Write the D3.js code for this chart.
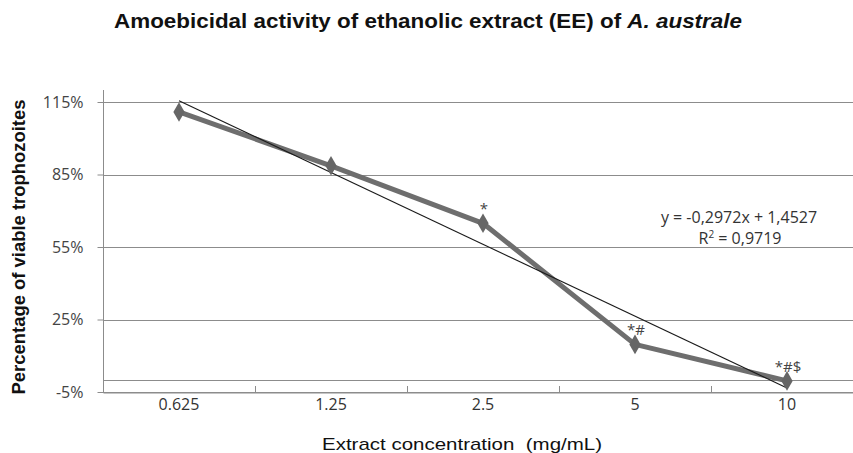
<!DOCTYPE html>
<html><head><meta charset="utf-8">
<script src="https://cdn.jsdelivr.net/npm/d3@7"></script>
<style>body{margin:0;background:#fff}svg{display:block}</style>
</head><body>
<svg id="c" width="853" height="453"></svg>
<script>
const categories = ["0.625", "1.25", "2.5", "5", "10"];
const values = [1.109, 0.886, 0.648, 0.147, -0.004];
const annotations = ["", "", "*", "*#", "*#$"];
const yTicks = [-0.05, 0.25, 0.55, 0.85, 1.15];
const trendSlope = -0.2972, trendIntercept = 1.4527, trendR2 = 0.9719;
const titleText = "Amoebicidal activity of ethanolic extract (EE) of ";
const titleItalic = "A. australe";
const xTitle = "Extract concentration  (mg/mL)";
const yTitle = "Percentage of viable trophozoites";

const svg = d3.select("#c");
const pLeft = 103, pRight = 863, pTop = 90, pBottom = 392;
const x = d3.scaleBand().domain(categories).range([pLeft, pRight]);
const y = d3.scaleLinear().domain([-0.05, 1.15]).range([pBottom, 102]);
const xc = c => x(c) + x.bandwidth() / 2;
const fmt = d => Math.round(d * 100) + "%";
const tickFont = "16px 'Open Sans', sans-serif";

// gridlines
svg.append("g").selectAll("line").data(yTicks.concat([0])).join("line")
  .attr("x1", pLeft).attr("x2", 853).attr("y1", d => Math.round(y(d)) + 0.5).attr("y2", d => Math.round(y(d)) + 0.5)
  .attr("stroke", "#8c8c8c").attr("stroke-width", 1);

// y axis
const yAxis = svg.append("g").attr("transform", `translate(${pLeft + 0.5},0)`)
  .call(d3.axisLeft(y).tickValues(yTicks).tickFormat(fmt).tickSize(6).tickPadding(14));
yAxis.select(".domain").remove();
yAxis.append("line").attr("y1", pTop).attr("y2", pBottom).attr("stroke", "#8c8c8c");
yAxis.selectAll(".tick line").attr("stroke", "#8c8c8c");
yAxis.selectAll(".tick text").attr("fill", "#444").style("font", tickFont);

// x axis
const xAxis = svg.append("g").attr("transform", `translate(0,${pBottom + 0.5})`)
  .call(d3.axisBottom(x).tickSize(0).tickPadding(6.5));
xAxis.select(".domain").attr("stroke", "#8c8c8c");
xAxis.selectAll(".tick text").attr("fill", "#333").style("font", tickFont);
// inter-category tick marks
svg.append("g").selectAll("line").data(categories.slice(1)).join("line")
  .attr("x1", d => Math.round(x(d)) + 0.5).attr("x2", d => Math.round(x(d)) + 0.5)
  .attr("y1", pBottom - 6).attr("y2", pBottom).attr("stroke", "#8c8c8c");

// series line
const line = d3.line().x((d, i) => xc(categories[i])).y(d => y(d));
svg.append("path").datum(values).attr("d", line)
  .attr("fill", "none").attr("stroke", "#6e6e6e").attr("stroke-width", 5).attr("stroke-linejoin", "round");

// trend line
const tx = [1, 5];
const tLine = d3.scaleLinear().domain([1, 5]).range([xc(categories[0]), xc(categories[4])]);
svg.append("line")
  .attr("x1", tLine(tx[0])).attr("y1", y(trendSlope * tx[0] + trendIntercept))
  .attr("x2", tLine(tx[1])).attr("y2", y(trendSlope * tx[1] + trendIntercept))
  .attr("stroke", "#1a1a1a").attr("stroke-width", 1.1);

// markers
svg.append("g").selectAll("path").data(values).join("path")
  .attr("d", d3.symbol(d3.symbolDiamond, 100))
  .attr("transform", (d, i) => `translate(${xc(categories[i])},${y(d)}) scale(1.05,1.05)`)
  .attr("fill", "#666");

// annotations
svg.append("g").selectAll("text").data(values).join("text")
  .attr("x", (d, i) => xc(categories[i]) + 1).attr("y", d => y(d) - 9)
  .attr("text-anchor", "middle").attr("fill", "#444")
  .style("font", "15px 'Open Sans', sans-serif")
  .text((d, i) => annotations[i]);

// equation
const eq = svg.append("g").attr("fill", "#333").style("font", "16px 'Open Sans', sans-serif").attr("text-anchor", "middle");
eq.append("text").attr("x", 739).attr("y", 223)
  .text(`y = ${String(trendSlope).replace(".", ",")}x + ${String(trendIntercept).replace(".", ",")}`);
const r = eq.append("text").attr("x", 740).attr("y", 244);
r.append("tspan").text("R");
r.append("tspan").attr("dy", -6).style("font-size", "10px").text("2");
r.append("tspan").attr("dy", 6).text(` = ${String(trendR2).replace(".", ",")}`);

// titles
const t = svg.append("text").attr("x", 428).attr("y", 28).attr("text-anchor", "middle")
  .attr("textLength", 628).attr("lengthAdjust", "spacingAndGlyphs")
  .attr("fill", "#111").style("font", "bold 21px 'Liberation Sans', Arial, sans-serif");
t.append("tspan").text(titleText);
t.append("tspan").style("font-style", "italic").text(titleItalic);

svg.append("text").attr("x", 462).attr("y", 450).attr("text-anchor", "middle")
  .attr("textLength", 280).attr("lengthAdjust", "spacingAndGlyphs")
  .style("white-space", "pre")
  .attr("fill", "#111").style("font", "17px 'Liberation Sans', Arial, sans-serif").text(xTitle);

svg.append("text").attr("transform", "translate(25,247) rotate(-90)").attr("text-anchor", "middle")
  .attr("textLength", 295).attr("lengthAdjust", "spacingAndGlyphs")
  .attr("fill", "#111").style("font", "bold 18px 'Liberation Sans', Arial, sans-serif").text(yTitle);
</script>
</body></html>
